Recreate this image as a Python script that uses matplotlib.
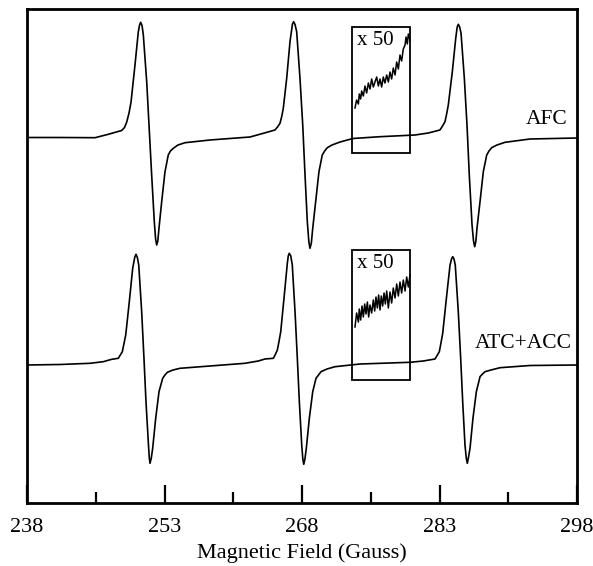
import matplotlib
matplotlib.use("Agg")
import matplotlib.pyplot as plt
from matplotlib.patches import Rectangle

plt.rcParams['font.family'] = ['Liberation Serif', 'DejaVu Serif']

# =============================================================================
# data (field in Gauss, signal in arbitrary units)
# =============================================================================
afc_field = [238.00, 241.60, 245.42, 246.87, 248.33, 248.64, 248.88, 249.13, 249.35, 249.78,
             250.14, 250.28, 250.40, 250.55, 250.69, 251.06, 251.31, 251.60, 251.89, 252.03,
             252.15, 252.27, 252.40, 252.69, 253.05, 253.41, 253.65, 253.96, 254.47, 255.24,
             257.96, 262.33, 263.78, 265.05, 265.33, 265.60, 265.80, 265.96, 266.33, 266.69,
             266.96, 267.09, 267.24, 267.42, 267.78, 268.08, 268.33, 268.58, 268.75, 268.87,
             269.02, 269.17, 269.49, 269.85, 270.21, 270.47, 270.76, 271.27, 272.15, 273.56,
             276.51, 280.33, 281.78, 283.05, 283.33, 283.60, 283.80, 283.96, 284.40, 284.77,
             284.93, 285.05, 285.20, 285.35, 285.71, 286.00, 286.25, 286.55, 286.71, 286.84,
             286.97, 287.09, 287.42, 287.78, 288.15, 288.40, 288.69, 289.27, 290.15, 292.87,
             298.00]
afc_signal = [365.5, 365.5, 365.3, 368.7, 372.5, 375.5, 381.0, 390.0, 401.0, 438.0,
              471.0, 478.0, 480.7, 477.5, 468.0, 421.0, 378.0, 328.0, 281.0, 264.0,
              258.0, 262.0, 275.0, 301.0, 331.0, 348.0, 352.0, 354.7, 358.0, 360.3,
              363.0, 366.0, 369.7, 373.0, 376.0, 379.7, 387.0, 394.7, 424.7, 461.3,
              479.0, 481.3, 478.5, 471.3, 424.7, 378.0, 328.0, 281.0, 261.0, 254.7,
              260.0, 274.7, 301.3, 331.3, 348.0, 352.0, 355.3, 358.0, 361.0, 364.5,
              366.3, 368.0, 370.0, 373.0, 377.0, 381.3, 390.0, 398.0, 431.3, 464.7,
              476.0, 478.7, 476.0, 469.7, 424.7, 378.0, 328.0, 278.0, 262.0, 256.3,
              262.0, 274.7, 301.3, 331.3, 348.0, 352.0, 355.3, 358.0, 360.7, 364.0,
              365.0]

atc_field = [238.00, 241.60, 244.87, 246.32, 247.24, 247.96, 248.18, 248.40, 248.57, 248.77,
             249.16, 249.53, 249.76, 249.89, 250.04, 250.19, 250.51, 250.76, 250.98, 251.23,
             251.34, 251.42, 251.56, 251.71, 252.04, 252.40, 252.80, 253.05, 253.31, 253.93,
             254.69, 257.96, 261.78, 263.23, 263.96, 264.87, 265.09, 265.31, 265.49, 265.68,
             266.07, 266.40, 266.50, 266.61, 266.78, 266.94, 267.24, 267.49, 267.71, 267.97,
             268.09, 268.19, 268.32, 268.47, 268.80, 269.17, 269.53, 269.80, 270.07, 270.73,
             271.60, 274.33, 279.78, 281.23, 282.51, 282.74, 282.98, 283.16, 283.35, 283.79,
             284.15, 284.31, 284.44, 284.58, 284.72, 285.05, 285.31, 285.53, 285.78, 285.92,
             286.03, 286.16, 286.33, 286.65, 287.02, 287.42, 287.69, 287.96, 288.62, 289.60,
             292.87, 298.00]
atc_signal = [138.0, 138.5, 139.7, 141.3, 143.7, 144.7, 148.0, 151.3, 159.0, 168.0,
              201.3, 234.7, 246.0, 248.7, 245.5, 238.0, 191.3, 144.7, 101.3, 61.3,
              45.0, 39.7, 45.0, 54.7, 84.7, 111.3, 124.7, 128.0, 130.7, 133.0,
              134.7, 137.0, 139.7, 142.0, 144.0, 144.7, 148.5, 153.0, 161.5, 171.3,
              208.0, 239.7, 247.0, 249.7, 247.0, 238.0, 191.3, 144.7, 101.3, 58.0,
              44.0, 38.7, 44.0, 54.7, 84.7, 111.3, 124.7, 128.0, 131.3, 134.0,
              136.3, 139.0, 140.7, 142.0, 144.0, 147.5, 151.3, 160.0, 169.7, 208.0,
              238.0, 244.0, 246.3, 244.0, 238.0, 191.3, 144.7, 101.3, 58.0, 45.0,
              39.7, 45.5, 54.7, 84.7, 111.3, 126.3, 129.0, 131.3, 133.0, 135.3,
              137.5, 138.0]

# x 50 expansions shown inside the boxes
afc_zoom_field = [273.78, 273.96, 274.15, 274.25, 274.40, 274.51, 274.69, 274.87, 275.05, 275.24,
                  275.42, 275.60, 275.78, 275.96, 276.15, 276.33, 276.51, 276.69, 276.87, 277.05,
                  277.24, 277.42, 277.60, 277.78, 277.96, 278.15, 278.33, 278.51, 278.69, 278.87,
                  279.05, 279.24, 279.35, 279.49, 279.60, 279.78]
afc_zoom_signal = [395, 403, 399, 409, 404, 412, 407, 417, 410, 420,
                   414, 424, 416, 421, 426, 417, 424, 416, 426, 420,
                   428, 421, 431, 424, 435, 428, 441, 434, 448, 442,
                   454, 458, 466, 459, 469, 463]

atc_zoom_field = [273.78, 273.96, 274.15, 274.25, 274.40, 274.55, 274.69, 274.84, 274.98, 275.13,
                  275.27, 275.42, 275.60, 275.78, 275.93, 276.07, 276.22, 276.36, 276.51, 276.65,
                  276.80, 276.95, 277.09, 277.24, 277.42, 277.60, 277.78, 277.96, 278.15, 278.33,
                  278.51, 278.69, 278.87, 279.05, 279.24, 279.42, 279.60, 279.78]
atc_zoom_signal = [176, 190, 181, 194, 183, 197, 186, 199, 189, 201,
                   186, 198, 190, 203, 192, 206, 195, 208, 193, 207,
                   197, 210, 199, 212, 195, 211, 200, 215, 205, 219,
                   207, 221, 210, 223, 212, 226, 216, 228]

zoom_boxes = [(273.42, 279.78, 349.7, 475.7), (273.42, 279.78, 123.0, 253.0)]
zoom_label = "x 50"
trace_labels = ["AFC", "ATC+ACC"]
major_ticks = [238, 253, 268, 283, 298]
minor_ticks = [245.5, 260.5, 275.5, 290.5]

# =============================================================================
# plot
# =============================================================================
fig = plt.figure(figsize=(5.93, 5.66), dpi=100)
ax = fig.add_axes([27 / 593, 63 / 566, 550 / 593, 494 / 566])

ax.plot(afc_field, afc_signal, color='black', lw=1.2)
ax.plot(atc_field, atc_signal, color='black', lw=1.2)
ax.plot(afc_zoom_field, afc_zoom_signal, color='black', lw=1.1)
ax.plot(atc_zoom_field, atc_zoom_signal, color='black', lw=1.1)

for x0, x1, y0, y1 in zoom_boxes:
    ax.add_patch(Rectangle((x0, y0), x1 - x0, y1 - y0, fill=False, ec='black', lw=1.3))
    ax.text(x0 + 0.6, y1 - 4, zoom_label, ha='left', va='top', fontsize=15)

ax.text(297.0, 384, trace_labels[0], ha='right', va='center', fontsize=15.5)
ax.text(297.4, 159, trace_labels[1], ha='right', va='center', fontsize=15.5)

ax.set_xlim(238, 298)
ax.set_ylim(0, 494)
ax.set_xticks(major_ticks)
ax.set_xticks(minor_ticks, minor=True)
ax.set_xticklabels([str(t) for t in major_ticks], fontsize=16)
ax.set_yticks([])
ax.tick_params(axis='x', which='major', direction='in', length=13, width=1.6, pad=10.5)
ax.tick_params(axis='x', which='minor', direction='in', length=8, width=1.6)
for side in ax.spines:
    ax.spines[side].set_linewidth(2)
ax.set_xlabel('Magnetic Field (Gauss)', fontsize=16, labelpad=5)

plt.savefig('out.png', dpi=100)
